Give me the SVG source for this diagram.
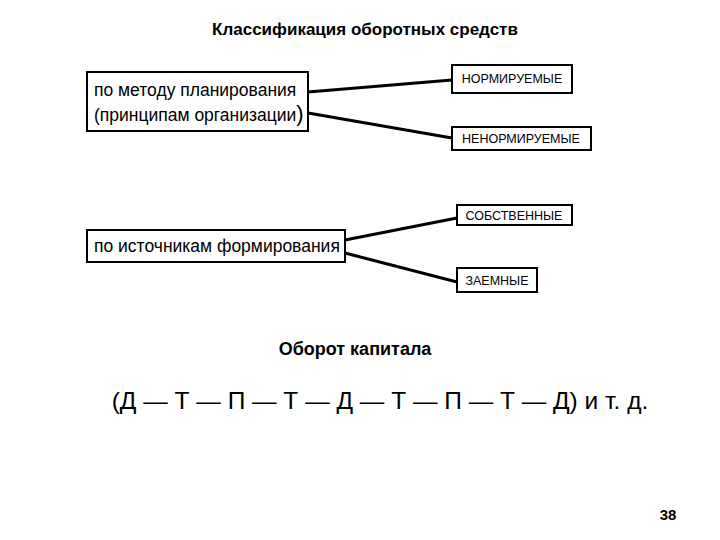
<svg xmlns="http://www.w3.org/2000/svg" width="720" height="540" viewBox="0 0 720 540">
<style>
text{font-family:"Liberation Sans",Arial,sans-serif;fill:#000}
.b{fill:#fff;stroke:#000;stroke-width:2}
.s{font-size:12.5px}
.m{font-size:17.5px}
.c{stroke:#000;stroke-width:3;fill:none}
</style>
<rect width="720" height="540" fill="#fff"/>
<text x="365" y="35" text-anchor="middle" font-size="17" font-weight="bold">Классификация оборотных средств</text>
<g id="plan"><rect class="b" x="87" y="72" width="221" height="59"/><text class="m" x="94" y="96">по методу планирования</text><text class="m" x="94" y="121">(принципам организации<tspan font-size="22">)</tspan></text></g>
<g id="norm"><rect class="b" x="452" y="65" width="120" height="28"/><text class="s" x="512" y="83" text-anchor="middle">НОРМИРУЕМЫЕ</text></g>
<g id="nenorm"><rect class="b" x="452" y="127" width="139" height="23"/><text class="s" x="521" y="143" text-anchor="middle">НЕНОРМИРУЕМЫЕ</text></g>
<g id="src"><rect class="b" x="87" y="230" width="258" height="32"/><text class="m" x="94" y="252">по источникам формирования</text></g>
<g id="own"><rect class="b" x="457" y="205" width="115" height="20"/><text class="s" x="514" y="220" text-anchor="middle">СОБСТВЕННЫЕ</text></g>
<g id="loan"><rect class="b" x="457" y="268" width="80" height="24"/><text class="s" x="497" y="285" text-anchor="middle">ЗАЕМНЫЕ</text></g>
<g id="connectors">
<line class="c" x1="308" y1="92" x2="452" y2="80"/>
<line class="c" x1="308" y1="113" x2="452" y2="138"/>
<line class="c" x1="345" y1="240" x2="457" y2="218"/>
<line class="c" x1="345" y1="253" x2="457" y2="282"/>
</g>
<text x="355" y="355" text-anchor="middle" font-size="18" font-weight="bold">Оборот капитала</text>
<text x="380" y="409" text-anchor="middle" font-size="24.5">(Д — Т — П — Т — Д — Т — П — Т — Д) и т. д.</text>
<text x="668" y="520" text-anchor="middle" font-size="15" font-weight="bold">38</text>
</svg>
